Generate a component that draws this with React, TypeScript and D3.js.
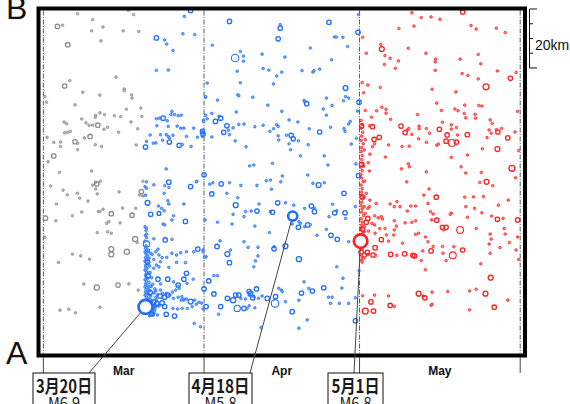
import React from 'react';
import * as d3 from 'd3';

type Q = [number, number, number?];

// time axis: days since 1 March; distance: km from A toward B
const monthTicks = [0, 31, 61, 92];
const monthLabels = ['Mar', 'Apr', 'May'];
const scaleBarKm = [0, 5, 10, 15, 20];

// before the 20 March mainshock (grey)
const foreshocks: Q[] = [
  [6.6,115.7],[16.4,116.8],[17.4,115.4],[2.7,111.4,3.6],[3.7,111.8],[9.5,113.7],[9.3,109.9],[11.5,111.2],[15.4,109.9],[18.4,109.7],[11.1,106.5],[4.7,105.2,3.6],[14.0,94.2],[5.1,93.0],[4.1,91.2,3.6],[7.6,89.1],[15.6,90.2],[15.6,89.6],[10.9,88.1],[17.0,88.2],[17.1,87.1],[0.3,87.6],[0.6,85.7],[6.1,84.8],[16.0,83.3],[18.8,83.7],[10.9,82.1],[10.1,81.3],[10.0,80.6],[11.8,81.5],[7.4,80.0],[13.7,81.1],[14.9,80.8],[19.0,80.9],[4.0,79.0],[4.5,78.4],[8.2,78.7],[8.8,77.9],[9.5,77.9],[10.5,77.9,3.6],[12.4,77.2],[11.7,76.5],[16.9,79.0],[18.2,76.7],[4.1,75.3],[4.7,75.5],[5.2,75.8],[14.5,75.5],[0.7,73.8],[9.0,74.1,3.6],[7.9,73.6],[2.0,72.1],[3.3,72.2],[3.3,70.7],[6.1,72.3,3.6],[6.6,71.8],[6.6,69.6],[10.0,71.3],[11.2,70.7],[17.9,71.2],[2.0,67.5,3.6],[0.9,65.5],[3.1,61.9],[9.3,62.4],[10.1,58.6],[11.0,58.9],[19.2,58.9],[1.4,57.3],[3.8,55.9],[4.6,54.3],[6.6,54.8],[7.0,53.2],[8.6,52.2],[9.5,57.6],[10.3,58.0,3.6],[10.1,56.3],[10.4,54.6],[14.6,55.3],[18.9,55.4,3.6],[18.6,54.2],[19.2,53.9],[2.5,51.2],[5.6,47.2],[7.4,48.5],[10.6,48.6],[10.9,48.7],[11.5,49.4],[13.1,47.9,3.6],[15.3,49.8],[17.1,47.4,3.6],[17.8,49.7],[0.4,46.4,3.6],[2.4,45.5],[12.2,44.6],[12.6,45.2],[14.8,44.8],[10.4,41.5],[12.4,41.8],[13.1,41.3],[17.7,39.3,3.9],[18.1,38.2],[0.3,39.9],[5.6,34.2],[7.2,33.6],[8.9,32.5],[2.9,31.4],[13.1,35.9,3.8],[13.1,34.1,3.8],[16.1,35.0,3.9],[10.3,22.9,3.9],[14.4,23.7,3.6],[7.8,24.1],[16.5,24.1],[18.3,22.0],[3.2,15.2],[4.9,15.5],[6.2,14.3],[10.9,16.2],
];

// 20 March - 1 May (blue)
const aftershocksApr: Q[] = [
  [28.4,116.8,3.6],[27.2,114.8],[26.9,108.9],[29.2,108.6],[21.8,107.5,3.6],[23.4,106.8],[23.8,105.4],[25.0,103.2],[21.8,96.5],[24.1,96.6],[31.3,87.4],[24.8,82.6],[25.3,81.5],[24.6,81.5],[26.0,81.1],[26.6,81.3],[21.8,80.1],[22.4,80.3],[23.1,80.3,3.6],[23.9,79.4],[30.9,79.6],[31.3,81.3],[21.9,77.7],[24.1,77.5],[25.8,77.6],[26.5,76.9],[27.1,76.9],[29.0,76.9],[30.7,75.8,3.6],[20.6,74.6],[22.6,74.7],[23.7,74.7],[24.1,74.1],[24.3,73.6],[25.0,74.5],[27.6,74.1],[29.7,73.8],[30.7,74.1],[19.9,72.4],[21.2,71.8],[21.7,71.9],[23.0,72.8],[24.3,72.2,3.6],[19.7,70.5,3.6],[26.2,71.1,3.6],[26.8,71.3],[28.5,70.7],[23.7,63.1],[31.0,61.1,3.6],[24.2,58.6,3.6],[29.6,58.9],
  [35.9,113.1,3.6],[45.7,112.0],[45.7,110.8,3.6],[55.1,112.8,3.6],[60.8,115.4],[60.7,109.4,3.6],[45.3,107.2,3.6],[56.2,107.8],[56.5,107.8],[57.8,107.7],[32.6,105.0],[58.7,104.6],[38.0,102.9],[37.0,100.7,4.8],[38.6,101.3],[38.6,99.6],[42.2,102.0],[51.5,104.1],[46.6,101.0],[55.6,100.1],[37.4,96.2],[42.4,97.1],[43.5,96.6],[46.0,95.9],[45.0,94.6],[49.9,96.4],[52.2,96.4],[52.0,95.9],[53.3,96.9],[31.6,92.2],[38.0,92.3],[44.4,91.9],[58.3,90.5,3.8],[31.3,87.6],[33.6,86.4],[37.5,88.2],[37.7,87.9],[40.4,87.4],[43.3,84.7],[50.3,86.3],[50.4,85.9],[50.8,85.2,3.6],[54.6,87.1],[58.3,87.6],[58.9,87.1],[57.9,86.2],[55.7,84.6],[60.9,85.7,3.6],[46.0,82.6],[54.0,83.4],[54.6,81.3],[60.6,82.7],[37.2,82.4],[32.5,81.9],[31.6,80.1],[33.9,80.9],[34.2,80.3,3.6],[33.2,79.2,3.6],[30.9,79.2],[47.4,79.7],[49.1,79.0],[59.2,79.2],[58.9,78.3],[35.4,77.7,3.6],[37.7,78.2],[38.7,78.3],[35.7,76.2],[36.6,77.0],[40.8,77.4],[42.4,77.9],[45.0,78.1],[45.3,77.5],[44.4,76.7],[43.7,75.8],[51.3,76.7],[55.4,77.2],[58.0,76.8],[58.2,75.8],[30.8,76.0],[30.8,74.9,3.6],[34.8,75.5,3.6],[35.9,74.7],[32.5,73.9],[37.0,72.6],[45.3,74.3],[45.4,72.9],[46.9,74.5],[47.8,74.5,3.6],[48.2,73.3,3.6],[53.3,75.6,3.6],[49.2,72.6],[47.4,71.6],[51.1,71.3],[39.1,70.6],[47.7,69.6],[59.4,71.5],[60.4,73.5],[60.3,64.8],
  [32.7,58.4],[32.1,57.9],[34.3,58.0,3.6],[35.9,58.4],[32.5,54.6,3.6],[35.4,54.8],[38.1,57.5],[39.8,64.1],[40.6,64.4],[44.2,65.0],[49.6,67.5],[54.2,67.5],[54.9,64.4],[46.1,60.7],[43.8,59.3],[43.0,59.1],[41.2,57.5],[44.0,56.2],[45.8,58.7],[51.0,61.0],[52.0,58.2],[53.1,57.6,3.8],[54.2,58.4],[58.0,54.8,3.6],[37.5,53.3],[37.1,50.8,3.8],[39.0,48.6],[40.1,48.8],[41.2,48.8,3.6],[43.8,48.6],[44.2,48.4,3.6],[41.6,51.2],[45.2,51.6,3.6],[46.7,51.6],[48.3,50.8],[51.7,50.5,3.6],[52.3,49.7],[52.3,48.6,3.6],[50.4,49.7],[55.8,51.1],[56.6,48.9],[56.2,48.2,3.6],[55.1,46.9],[58.2,48.2,3.6],[58.3,46.3],[31.2,45.8],[33.6,45.0],[36.6,47.7],[36.4,44.4],[38.7,46.9],[40.8,43.7],[43.6,41.5],[49.3,45.2],[49.6,44.6],[49.2,43.3,3.6],[48.3,46.3],[48.0,44.4],[50.4,43.5],[51.0,44.1,3.6],[51.5,44.2],[54.6,42.6],[52.8,40.6],[55.5,40.6,3.6],[56.7,39.2,3.6],[58.9,38.4],[34.1,38.7],[38.7,38.4],[33.5,36.8,3.6],[36.1,35.6],[35.5,34.2,3.8],[39.5,36.5],[41.4,36.5],[44.5,36.7],[44.5,36.0,3.6],[46.7,36.9,3.8],[30.8,35.6],[31.4,33.3],[35.9,31.3,3.6],[40.9,31.9],[41.4,33.6],[49.3,32.5,3.9],[56.6,29.9],[40.6,29.9],[57.8,26.0],[31.9,25.1,3.6],[32.9,26.9],[33.6,26.9],[57.6,22.7],[50.3,24.8],[45.9,22.0],[32.9,20.7,3.6],
  [31.4,16.4,3.6],[34.2,16.4,3.6],[35.5,19.2,3.6],[37.1,20.3,3.6],[37.7,20.3,3.6],[36.6,18.6,3.9],[37.4,15.8,4.3],[38.7,15.8,3.6],[38.1,19.2],[39.0,19.0],[39.7,20.3],[40.6,19.8],[39.7,21.5,3.6],[40.0,20.9,3.6],[41.1,22.4,3.6],[40.4,19.4,3.6],[39.3,15.8],[39.7,16.7],[40.8,16.0],[41.5,19.2],[42.2,20.0],[43.2,19.2,3.6],[44.7,17.5,4.8],[44.8,19.8,3.6],[45.4,22.6],[46.1,21.5],[46.7,18.1],[48.0,14.7,3.6],[49.3,18.6],[49.8,21.0,3.6],[50.9,11.9],[51.2,22.6],[51.9,21.7,3.6],[54.1,22.8,3.6],[55.0,19.6],[55.7,19.6],[55.4,17.5],[57.1,17.5],[58.9,17.5],[60.2,19.4],[60.2,11.6,3.6],[49.3,9.1],[42.0,9.3],[33.8,13.8],[31.0,22.4,3.6],[60.8,60.8,3.6],[60.2,50.3],[60.9,28.6],
];

// aftershocks close to the 20 March mainshock (blue)
const marchCluster: Q[] = [
  [19.6,57.1],[19.9,56.5],[19.9,58.7],[21.3,57.7],[23.4,57.4],[24.2,56.8],[28.4,57.1,3.6],[29.5,58.7],[20.1,51.6,3.8],[20.7,47.7,3.6],[19.7,54.2],[23.3,54.8],[24.0,52.3],[24.2,51.2],[22.8,49.7],[22.2,50.5],[27.1,51.2],[23.3,48.9],[25.1,47.2],[27.4,45.3,3.6],[22.3,48.0,3.4],[23.1,44.4],[23.4,44.1],[24.8,45.8],[19.9,43.0],[19.9,41.0],[21.3,39.4],[23.5,39.0,3.6],[24.8,39.2],[19.9,37.6,4.4],[20.2,35.0],[20.7,34.5],[21.0,34.1],[21.7,35.0],[22.1,35.9],[22.3,33.9],[22.9,33.0],[23.8,33.1],[24.8,34.5],[25.7,33.9],[26.5,34.7],[27.6,35.0],[29.0,35.0],[29.8,35.9,3.6],[30.8,35.0],[31.1,33.1],[21.3,32.4],[22.6,31.6],[21.8,30.5],[21.3,29.4],[22.3,29.9],[24.2,29.7],[25.7,31.4],[27.4,31.3],[27.6,27.7,3.6],[24.0,25.7,3.6],[22.1,25.7,3.6],[22.6,24.1],[25.1,24.8],[26.0,23.7,3.6],[27.1,25.7,3.6],[27.7,24.3],[28.9,25.7],[20.8,23.2],[21.7,21.7],[22.6,22.0],[23.7,20.9],[23.4,19.6,3.6],[24.4,20.3],[25.1,19.2],[26.0,19.6],[26.6,18.6],[27.1,18.9],[27.6,19.0],[28.4,18.1,3.8],[29.5,17.2],[30.5,17.6],[22.3,16.9],[22.9,17.7,3.6],[23.4,16.4,3.6],[21.3,15.8],[22.3,16.6],[23.7,13.8,3.6],[25.3,13.2,3.6],[21.3,14.1],[29.1,10.7],[30.3,9.6],[25.0,15.8],[25.9,15.6],[26.8,15.8],[27.8,15.8],[28.7,16.4],[29.2,18.6],[30.0,17.9],[30.8,15.6],[21.7,16.4],[21.5,15.5],[22.0,13.6],[23.0,20.9],[24.0,20.3,3.6],[24.9,21.3],[25.5,22.0],[25.9,23.2],[26.2,22.6],[26.7,19.8],[27.1,18.6],
  [19.6,43.5],[19.8,42.2],[19.7,40.5],[19.9,39.8],[19.6,38.6],[19.8,37.0],[19.7,36.2],[20.0,35.5],[19.6,35.0],[19.8,34.2],[20.1,33.6],[19.7,33.0],[19.9,32.4],[19.6,31.8],[20.2,31.2],[19.8,30.6],[19.7,30.0],[20.0,29.4],[19.6,28.8],[19.9,28.2],[20.3,27.8],[19.7,27.2],[19.8,26.6],[20.1,26.0],[19.6,25.5],[19.9,25.0],[20.4,24.6],[19.7,24.1],[20.0,23.6],[19.6,23.1],[20.2,22.7],[19.8,22.2],[20.5,21.8],[19.7,21.4],[20.0,21.0],[20.3,20.6],[19.6,20.3],[20.7,20.0],[19.9,19.6],[20.2,19.2],[20.6,18.9],[19.7,18.5],[21.0,18.2],[20.1,17.8],[20.4,17.4],[20.8,17.0],[19.8,16.6],[21.2,16.3],[20.2,15.9],[20.6,15.5],[21.0,15.2],[20.0,14.9],[20.4,14.5],[21.4,14.8],[20.8,14.0],[21.2,13.6],[20.5,13.3],[21.6,16.8],[21.8,18.6],[22.0,20.4],[21.5,22.4],[21.1,24.0],[20.9,26.2],[20.6,28.0],[20.5,30.2],[20.4,32.8],[20.3,35.6],[20.6,23.4],[21.3,21.0],[21.7,19.5],
  [20.2,26.8,3.6],[20.6,21.2,3.6],[21.3,18.0,3.6],[20.9,13.9,3.6],[21.9,17.4,3.6],[20.1,31.5,3.6],[22.5,20.0,3.6],
];

// after the 1 May mainshock (red)
const aftershocksMay: Q[] = [
  [71.1,116.0],[72.9,114.4],[74.8,114.6],[76.5,113.8],[80.9,116.3,3.6],[82.5,111.7],[83.5,110.5],[87.4,110.8],[89.1,109.3],[68.6,110.7],[71.5,111.5],[61.6,107.7],[65.1,105.3],[65.3,103.7,3.8],[62.3,102.3],[65.9,101.5],[66.9,100.6],[65.8,98.5],[68.5,99.7],[70.4,104.0],[73.8,102.3],[67.9,97.2],[75.7,100.3],[75.6,99.4],[80.4,100.3],[83.9,101.9],[84.4,98.7],[75.6,96.5],[80.8,95.4],[81.9,94.8],[83.9,93.6],[87.6,96.3],[91.2,95.8],[90.1,93.8,3.6],[85.4,90.9,4.2],[61.5,92.4],[61.8,88.9],[62.6,91.5],[65.0,90.7],[75.0,90.1],[79.6,89.2],[75.9,85.4],[79.4,83.4],[80.0,82.8],[81.3,84.7],[84.0,84.6],[84.6,84.4],[76.8,82.9],[62.1,82.9],[64.3,82.8],[65.3,84.0],[66.1,83.3],[66.1,82.0],[63.3,80.6],[67.0,79.9],[72.2,81.5],[81.2,81.9],[81.5,80.4],[83.3,81.6],[83.4,80.3],[91.5,82.6],[86.2,79.7],[86.6,78.5],[91.0,75.6],[62.9,77.7],[63.5,77.4,3.6],[69.0,77.6,3.6],[70.2,76.3],[70.5,76.8],[69.8,75.4,3.6],[72.5,77.6],[72.5,76.7],[73.9,76.8],[76.4,76.5,3.6],[77.0,78.9],[78.7,78.0],[78.7,76.6],[79.7,77.1],[87.4,76.4],[87.7,75.6,3.6],[86.0,76.3],[88.4,76.8],[64.8,73.8,3.6],[63.8,73.1,3.6],[71.1,74.8],[72.4,73.3],[74.5,75.2],[77.9,74.6,3.6],[79.9,74.6],[81.8,74.7,3.6],[85.6,73.7],[86.4,75.2],[89.6,73.6,3.6],[77.7,72.5,3.6],[78.8,71.9,4.5],[79.7,72.2,3.6],[73.9,72.1],[75.9,71.1],[76.2,71.5],[69.2,70.7],[70.6,70.8],[63.5,70.6],[63.9,71.6],[66.6,71.2],[63.0,68.1],[87.6,69.8,3.8],[84.7,69.9],[81.8,67.8],[66.0,67.1],[78.7,67.0],[70.4,64.8],[70.6,63.8],[80.6,63.8],[62.7,65.2],[69.1,63.1],[90.4,63.3,4.2],[91.7,69.3],
  [62.9,62.4],[73.9,62.1],[81.5,61.7],[84.5,61.9],[91.1,60.1],[70.1,58.7],[84.2,58.5],[85.5,58.7,3.8],[86.7,57.4],[62.3,54.8],[63.0,52.5],[74.4,56.3],[73.4,54.2],[75.8,53.5,3.6],[81.3,53.5],[83.0,53.6],[84.9,53.7],[89.7,52.5],[68.2,52.0],[68.8,50.3],[66.9,51.2],[67.7,50.3],[64.2,51.4],[70.9,50.5],[71.8,50.5],[74.2,51.4],[61.9,50.3],[62.6,49.7],[62.9,50.3],[81.5,50.3],[83.2,49.7],[87.8,50.8],[70.2,48.8],[74.7,48.6],[75.2,47.8],[78.7,48.1],[78.5,47.7],[84.6,48.2],[63.9,47.2],[64.6,46.5],[65.2,46.9],[65.4,46.1],[62.6,46.3,3.6],[63.4,44.6],[62.3,45.0,3.6],[67.7,45.5],[71.8,45.5],[71.1,45.0],[69.8,44.8],[74.9,45.8],[75.9,45.7,3.6],[81.8,46.7],[86.5,47.1],[87.6,46.0,3.6],[88.7,46.3],[91.5,45.8,3.6],[63.9,44.1],[64.9,42.9],[65.9,42.9],[68.1,43.7],[67.7,42.4],[77.0,43.3,3.6],[77.7,43.3,3.6],[80.4,42.4,4.5],[77.2,42.4],[83.5,42.9],[88.9,42.9],[61.9,41.8],[62.7,42.0],[64.0,41.3],[66.2,40.7],[67.6,40.7],[71.8,40.9],[72.4,41.3],[73.7,40.0],[86.2,41.0],[89.1,41.0],[91.5,40.0],[65.2,39.1,3.6],[66.6,38.6],[69.3,37.9],[74.2,38.4],[86.4,39.3],[86.0,37.6],[89.9,38.1],[75.2,36.8],[77.0,36.8],[79.2,36.7],[64.0,36.4,3.6],[88.1,36.4],[61.3,34.8,3.6],[61.9,33.9,3.6],[62.7,34.1],[63.6,33.9,3.6],[64.1,33.7],[62.5,34.8,3.6],[67.0,34.1,3.6],[68.2,33.8],[69.7,34.3,3.6],[71.3,33.8,3.6],[71.6,33.6,3.6],[73.2,35.3],[74.8,35.3,3.6],[77.1,34.5],[79.0,33.8,4.5],[80.9,35.6,3.6],[86.2,34.5],[91.2,35.6],[72.9,32.0],[77.7,32.0],[91.7,32.4],[84.4,30.9],[73.7,28.9],[86.3,26.2,3.8],[61.6,20.1],[63.9,20.3],[66.6,20.0],[72.4,20.8,3.8],[73.3,20.0],[73.6,19.4,3.6],[75.0,21.3],[78.0,21.5],[82.2,21.7],[83.5,22.3],[85.3,20.8,3.8],[63.2,18.0,3.6],[66.9,16.8,3.6],[67.7,16.5],[89.6,18.6],[74.8,16.9],[75.0,17.2],[62.1,14.9,4.2],[63.7,14.9,3.6],[82.2,15.3],[87.0,16.2,3.6],
];

// aftershocks close to the 1 May mainshock (red)
const mayColumn: Q[] = [
  [61.3,79.5],[61.5,78.2],[61.3,76.9],[61.6,75.5],[61.4,74.2],[61.3,72.8],[61.7,71.6],[61.4,70.3],[61.3,69.0],[61.5,67.6],[61.4,66.3],[61.6,65.0],[61.3,63.7],[61.5,62.5],[61.3,61.2],[61.4,60.0],[61.7,58.8],[61.3,57.6],[61.5,56.4],[61.4,55.2],[61.3,54.0],[61.6,52.9],[61.4,51.8],[61.3,50.6],[61.5,49.5],[61.4,48.4],[61.8,47.3],[61.3,46.2],[61.5,45.1],[61.4,44.0],[61.3,43.0],[61.6,41.9],[61.4,40.9],[61.9,40.0],[61.3,36.9],[61.5,35.9],[61.4,36.4],[61.7,37.5],[61.3,34.0],[61.6,33.0],[61.4,32.2],[61.5,31.5],[61.8,32.8],[62.0,38.2],[61.9,43.6],[62.1,48.0],[61.9,53.5],[62.0,59.0],[61.8,64.0],[61.9,69.5],[62.1,73.0],
  [61.4,64.6,3.6],[61.5,53.6,3.6],[61.6,42.6,3.6],[61.4,77.6,3.6],
];

const mainDays = [19.7, 48.1, 61.2];
const mainKm = [16.3, 47.1, 38.6];
const mainMag = [6.9, 5.8, 6.8];
const mainDate = ['3月20日', '4月18日', '5月1日'];
const mainLabel = ['M6.9', 'M5.8', 'M6.8'];
const mainGroup = ['blue', 'blue', 'red'];

const COLORS: Record<string, { s: string; f: string }> = {
  grey: { s: '#8c8c8c', f: '#bcbcbc' },
  blue: { s: '#1f6dff', f: '#7fb0ff' },
  red: { s: '#ff1f1f', f: '#ff8a8a' },
};

// layout
const W = 570, H = 404;
const boxes = [
  { x0: 33, x1: 95, lineX: 89, tl: 56 },
  { x0: 189, x1: 252, lineX: 250, tl: 58 },
  { x0: 328, x1: 383, lineX: 354, tl: 48 },
];

export default function App() {
  const x = d3.scaleLinear().domain([0, 92]).range([43.4, 520.2]);
  const y = d3.scaleLinear().domain([0, 117.3]).range([355, 9]);
  const r = d3.scaleLinear().domain([3, 3.6, 4, 4.5, 5, 5.8, 6.9]).range([1.3, 2.2, 2.7, 3.4, 4.0, 4.6, 7.0]);

  const frame = { l: 38.5, t: 8.5, r: 525, b: 355.5 };
  const boxTop = 373;

  const dot = (q: Q, i: number, grp: string) => {
    const m = q[2] ?? 3;
    const c = COLORS[grp];
    if (m < 3.3) {
      return <circle key={grp + i} cx={x(q[0])} cy={y(q[1])} r={r(m)} fill={c.f} stroke={c.s} strokeWidth={0.8} />;
    }
    return <circle key={grp + i} cx={x(q[0])} cy={y(q[1])} r={r(m)} fill="none" stroke={c.s} strokeWidth={m > 4.2 ? 1.1 : 1.3} />;
  };

  const sbTop = y(117.3);
  return (
    <svg width={W} height={H} style={{ position: 'absolute', left: 0, top: 0, background: '#fff' }} fontFamily="'Liberation Sans', Arial, sans-serif">
      <rect x={0} y={0} width={W} height={H} fill="#fff" />
      {/* month separators */}
      {monthTicks.map((d, i) => (
        <g key={'mt' + i}>
          <line x1={x(d)} x2={x(d)} y1={frame.t + 2} y2={frame.b - 2} stroke="#333" strokeWidth={0.8} strokeDasharray="5,1.5,1,1.5" />
          <line x1={x(d)} x2={x(d)} y1={frame.b + 2} y2={boxTop} stroke="#333" strokeWidth={0.9} />
        </g>
      ))}
      {monthLabels.map((m, i) => (
        <text key={m} x={(x(monthTicks[i]) + x(monthTicks[i + 1])) / 2} y={375} textAnchor="middle" fontSize={12} fontWeight="bold" fill="#111">{m}</text>
      ))}
      {/* events */}
      <g>{foreshocks.map((q, i) => dot(q, i, 'grey'))}</g>
      <g>{aftershocksApr.map((q, i) => dot(q, i, 'blue'))}</g>
      <g>{marchCluster.map((q, i) => dot(q, 1000 + i, 'blue'))}</g>
      <g>{aftershocksMay.map((q, i) => dot(q, i, 'red'))}</g>
      <g>{mayColumn.map((q, i) => dot(q, 1000 + i, 'red'))}</g>
      {/* frame */}
      <rect x={frame.l} y={frame.t} width={frame.r - frame.l} height={frame.b - frame.t} fill="none" stroke="#000" strokeWidth={4} />
      {/* connectors */}
      {mainDays.map((d, i) => (
        <line key={'cn' + i} x1={boxes[i].lineX} y1={boxTop} x2={x(d)} y2={y(mainKm[i])} stroke="#444" strokeWidth={1} />
      ))}
      {/* mainshocks */}
      {mainDays.map((d, i) => (
        <circle key={'ms' + i} cx={x(d)} cy={y(mainKm[i])} r={r(mainMag[i])} fill="#fff" stroke={COLORS[mainGroup[i]].s} strokeWidth={2.6} />
      ))}
      {/* label boxes */}
      {boxes.map((b, i) => (
        <g key={'bx' + i}>
          <rect x={b.x0} y={boxTop} width={b.x1 - b.x0} height={50} fill="#fff" stroke="#111" strokeWidth={1} />
          <text x={(b.x0 + b.x1) / 2} y={393} textAnchor="middle" fontFamily="'Noto Sans CJK JP', sans-serif" fontWeight="bold" fontSize={18} textLength={b.tl} lengthAdjust="spacingAndGlyphs" fill="#1a1a1a">{mainDate[i]}</text>
          <text x={(b.x0 + b.x1) / 2} y={409} textAnchor="middle" fontFamily="'Noto Sans CJK JP', sans-serif" fontSize={16} textLength={32} lengthAdjust="spacingAndGlyphs" fill="#1a1a1a">{mainLabel[i]}</text>
        </g>
      ))}
      {/* A / B */}
      <text x={6} y={19} fontSize={32} fill="#111">B</text>
      <text x={6} y={363.5} fontSize={32} fill="#111">A</text>
      {/* scale bar */}
      <line x1={529.5} x2={529.5} y1={sbTop} y2={y(117.3 - 20)} stroke="#111" strokeWidth={1} />
      {scaleBarKm.map((k, i) => (
        <line key={'sb' + i} x1={529.5} x2={i === 0 || i === scaleBarKm.length - 1 ? 537 : 533} y1={y(117.3 - k)} y2={y(117.3 - k)} stroke="#111" strokeWidth={1} />
      ))}
      <text x={535} y={50} fontSize={14} fill="#111">20km</text>
    </svg>
  );
}
